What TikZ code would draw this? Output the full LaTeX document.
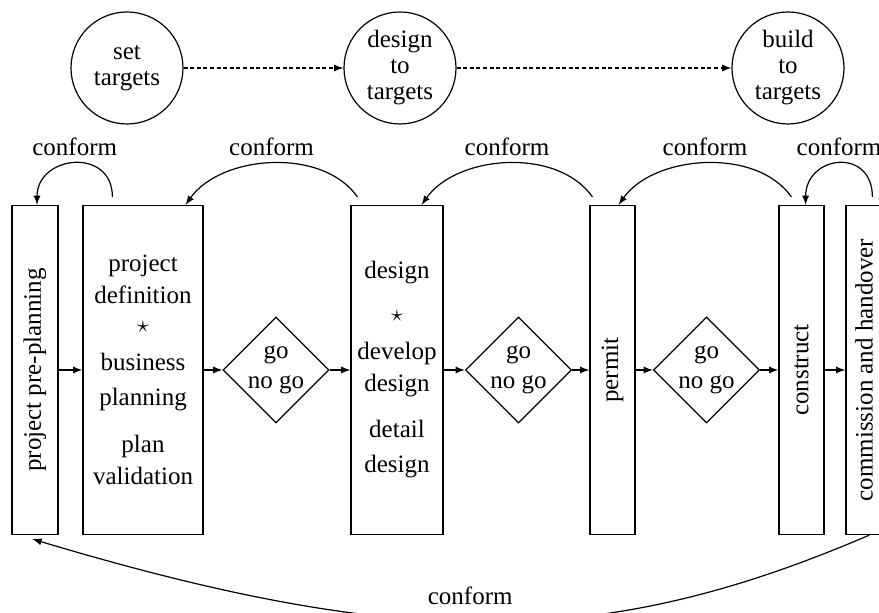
\documentclass[tikz,border=0pt]{standalone}
\usepackage{fontspec}
\setmainfont{Liberation Serif}
\usepackage{amsmath}
\usepackage{graphicx}
\usetikzlibrary{shapes.geometric}

\begin{document}
\begin{tikzpicture}[x = 0.5pt, y = 0.5pt, node distance = 50pt, > = latex, line width = 0.6pt, font = \fontsize{12.5}{16}\selectfont]
\tikzset{
  block/.style = {draw, fill = white, rectangle, minimum height = 164.5pt, inner sep = 0pt, align = center},
  thin/.style = {block, minimum width = 23pt},
  decision/.style = {draw, diamond, minimum size = 53pt, inner sep = 0pt, align = center, font = \fontsize{12.5}{15}\selectfont},
  target/.style = {draw, circle, minimum size = 56pt, inner sep = 0pt, align = center, font = \fontsize{12.5}{13}\selectfont},
  plan/.style = {->, dash pattern = on 2pt off 1.3pt},
}
\useasboundingbox (0,0) rectangle (879,613);
\node [thin] (projectPrePlanning) at (35,243) {\rotatebox{90}{project pre-planning}};
\node [block, minimum width = 60pt, right of = projectPrePlanning, node distance = 54pt] (projectDefinition) {project\\definition\\[-1.5pt]$\star$\\[3pt]business\\[1.5pt]planning\\[7.5pt]plan\\validation};
\node [decision, right of = projectDefinition, node distance = 66.5pt] (goNoGoA) {go\\no go};
\node [block, minimum width = 46pt, right of = goNoGoA, node distance = 60.5pt] (design) {design\\[5.5pt]$\star$\\[3pt]develop\\design\\[7pt]detail\\[1.5pt]design};
\node [decision, right of = design, node distance = 60.75pt] (goNoGoB) {go\\no go};
\node [thin, minimum width = 22.5pt, right of = goNoGoB, node distance = 47pt] (permit) {\rotatebox{90}{permit}};
\node [decision, right of = permit, node distance = 47pt] (goNoGoC) {go\\no go};
\node [thin, minimum width = 22.5pt, right of = goNoGoC, node distance = 47.5pt] (construct) {\rotatebox{90}{construct}};
\node [thin, minimum width = 18pt, right of = construct, node distance = 31.25pt] (commission) {\rotatebox{90}{commission and handover}};
\node [target] (setTargets) at (127,545) {set\\targets};
\node [target, right of = setTargets, node distance = 136.5pt] (designToTargets) {design\\to\\targets};
\node [target, right of = designToTargets, node distance = 194pt] (buildToTargets) {build\\to\\targets};
\draw [plan] (setTargets) -- (designToTargets);
\draw [plan] (designToTargets) -- (buildToTargets);
\draw [->] (projectPrePlanning) -- (projectDefinition);
\draw [->] (projectDefinition) -- (goNoGoA);
\draw [->] (goNoGoA) -- (design);
\draw [->] (design) -- (goNoGoB);
\draw [->] (goNoGoB) -- (permit);
\draw [->] (permit) -- (goNoGoC);
\draw [->] (goNoGoC) -- (construct);
\draw [->] (construct) -- (commission);
\draw [->] ([xshift = 15pt, yshift = 4pt]projectDefinition.north west) .. controls +(0,50) and +(0,50) .. node [above] {conform} ([xshift = 1pt]projectPrePlanning.north);
\draw [->] ([xshift = 3.5pt, yshift = 4pt]design.north west) .. controls +(-35,50) and +(35,50) .. node [above] {conform} ([xshift = -9pt]projectDefinition.north east);
\draw [->] ([xshift = 1.5pt, yshift = 4pt]permit.north west) .. controls +(-35,50) and +(35,50) .. node [above] {conform} ([xshift = -11pt]design.north east);
\draw [->] ([xshift = 6.5pt, yshift = 4pt]construct.north west) .. controls +(-35,50) and +(35,50) .. node [above] {conform} ([xshift = -8.5pt]permit.north east);
\draw [->] ([xshift = 13.5pt, yshift = 4pt]commission.north west) .. controls +(0,50) and +(0,50) .. node [above] {conform} ([xshift = -9.5pt]construct.north east);
\draw [->] ([xshift = 12pt]commission.south west) .. controls +(-263,-113) and +(377,-113) .. node [pos = 0.53, above = 5pt] {conform} ([xshift = 10.5pt, yshift = -2pt]projectPrePlanning.south west);
\end{tikzpicture}
\end{document}
